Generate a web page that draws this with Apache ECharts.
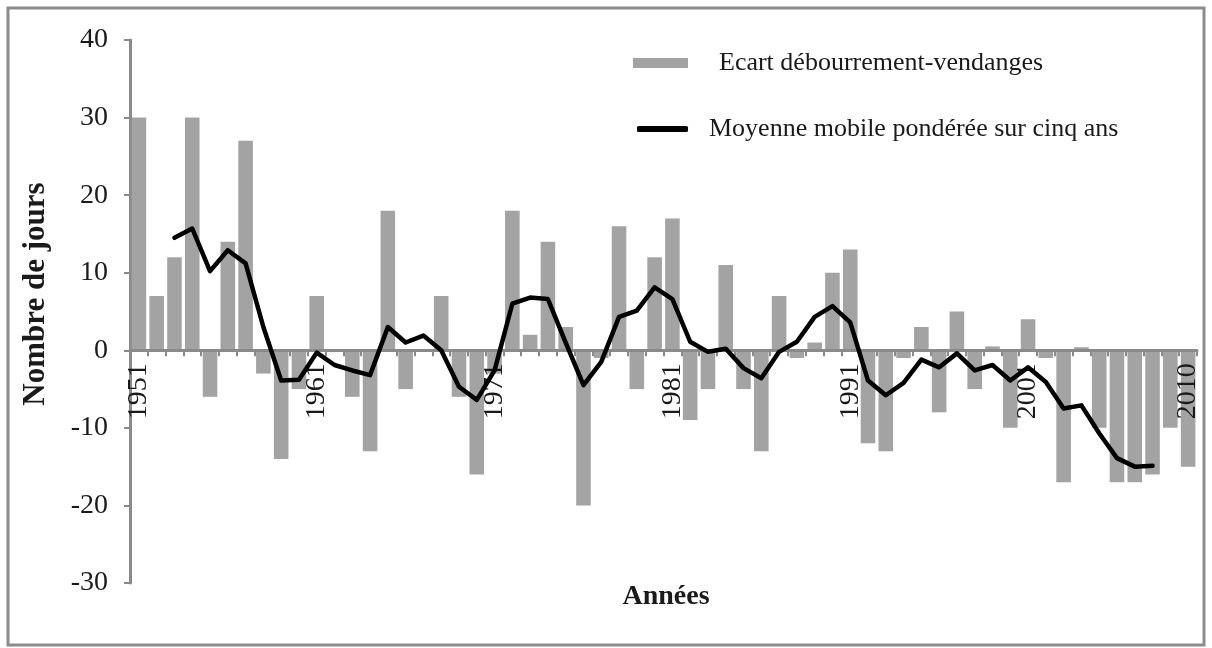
<!DOCTYPE html>
<html>
<head>
<meta charset="utf-8">
<title>Ecart débourrement-vendanges</title>
<script src="https://cdn.jsdelivr.net/npm/echarts@6/dist/echarts.min.js"></script>
<style>
    html, body {margin: 0; padding: 0; background: #fff;}
    #chart {width: 1212px; height: 648px;}
</style>
</head>
<body>
<div id="chart"></div>
<script>
    "use strict";

    /** années */
    var years = ['1951', '1952', '1953', '1954', '1955', '1956', '1957', '1958', '1959', '1960',
        '1961', '1962', '1963', '1964', '1965', '1966', '1967', '1968', '1969', '1970',
        '1971', '1972', '1973', '1974', '1975', '1976', '1977', '1978', '1979', '1980',
        '1981', '1982', '1983', '1984', '1985', '1986', '1987', '1988', '1989', '1990',
        '1991', '1992', '1993', '1994', '1995', '1996', '1997', '1998', '1999', '2000',
        '2001', '2002', '2003', '2004', '2005', '2006', '2007', '2008', '2009', '2010'];

    /** écart débourrement-vendanges (jours) */
    var ecart = [30, 7, 12, 30, -6, 14, 27, -3, -14, -5,
        7, 0, -6, -13, 18, -5, 0, 7, -6, -16,
        -3, 18, 2, 14, 3, -20, -1, 16, -5, 12,
        17, -9, -5, 11, -5, -13, 7, -1, 1, 10,
        13, -12, -13, -1, 3, -8, 5, -5, 0.5, -10,
        4, -1, -17, 0.4, -10, -17, -17, -16, -10, -15];

    /** moyenne mobile pondérée sur cinq ans */
    var moyenne = [null, null, 14.5, 15.7, 10.2, 12.9, 11.2, 3, -3.9, -3.8,
        -0.3, -1.9, -2.6, -3.2, 3.0, 1.0, 1.9, 0, -4.7, -6.4,
        -2.6, 6.0, 6.8, 6.6, 1.0, -4.5, -1.5, 4.3, 5.1, 8.1,
        6.6, 1.1, -0.2, 0.2, -2.3, -3.6, -0.2, 1.1, 4.3, 5.7,
        3.6, -3.9, -5.8, -4.2, -1.2, -2.2, -0.4, -2.6, -1.9, -3.9,
        -2.2, -4.1, -7.5, -7.1, -10.7, -13.9, -15.0, -14.9, null, null];

    /** graduations de l'axe vertical */
    var yMin = -30, yMax = 40, yStep = 10;

    var font = 'Liberation Serif';
    var axisGrey = '#8a8a8a';

    // zone du graphique
    var gridTop = 40, gridBottom = 65, chartHeight = 648;
    var plotHeight = chartHeight - gridTop - gridBottom;
    // décalage de l'axe des années pour le placer sur le zéro
    var zeroOffset = -plotHeight * (0 - yMin) / (yMax - yMin);

    var myChart = echarts.init(document.getElementById('chart'), null, {renderer: 'canvas'});

    var option = {
        backgroundColor: '#fff',
        animation: false,
        textStyle: {fontFamily: font, color: '#1a1a1a'},
        grid: {left: 130, right: 15, top: gridTop, bottom: gridBottom, containLabel: false},
        legend: [
            {
                data: [{name: 'Ecart débourrement-vendanges', icon: 'rect'}],
                left: 628, top: 45,
                itemWidth: 55, itemHeight: 10,
                textStyle: {fontFamily: font, fontSize: 26, color: '#1a1a1a', padding: [0, 0, 0, 26]},
                selectedMode: false
            },
            {
                data: [{name: 'Moyenne mobile pondérée sur cinq ans', icon: 'roundRect'}],
                left: 632, top: 111,
                itemWidth: 51, itemHeight: 6,
                textStyle: {fontFamily: font, fontSize: 26, color: '#1a1a1a', padding: [0, 0, 0, 16]},
                selectedMode: false
            }
        ],
        xAxis: {
            type: 'category',
            data: years,
            position: 'bottom',
            offset: zeroOffset,
            z: 3,
            axisLine: {onZero: false, lineStyle: {color: axisGrey, width: 3}},
            axisTick: {show: true, interval: 0, length: 6, lineStyle: {color: axisGrey, width: 2}},
            axisLabel: {
                rotate: 90,
                margin: 13,
                fontFamily: font,
                fontSize: 28,
                color: '#1a1a1a',
                padding: [14, 0, 0, 0],
                interval: function (index) {
                    return index % 10 === 0 || index === years.length - 1;
                }
            },
            splitLine: {show: false}
        },
        yAxis: {
            type: 'value',
            min: yMin, max: yMax, interval: yStep,
            axisLine: {show: true, lineStyle: {color: axisGrey, width: 3}},
            axisTick: {show: true, length: 6, lineStyle: {color: axisGrey, width: 2}},
            axisLabel: {margin: 22, fontFamily: font, fontSize: 28, color: '#1a1a1a'},
            splitLine: {show: false}
        },
        series: [
            {
                name: 'Ecart débourrement-vendanges',
                type: 'bar',
                data: ecart,
                z: 1,
                barCategoryGap: '18%',
                itemStyle: {color: '#a3a3a3'}
            },
            {
                name: 'Moyenne mobile pondérée sur cinq ans',
                type: 'line',
                data: moyenne,
                z: 5,
                symbol: 'none',
                connectNulls: false,
                lineStyle: {color: '#000', width: 4.5, join: 'round', cap: 'round'},
                itemStyle: {color: '#000'}
            }
        ],
        graphic: [
            {
                type: 'rect',
                shape: {x: 8, y: 8, width: 1196, height: 637},
                style: {fill: null, stroke: '#8c8c8c', lineWidth: 3},
                silent: true
            },
            {
                type: 'text',
                x: 36, y: 294,
                rotation: Math.PI / 2,
                style: {
                    text: 'Nombre de jours',
                    font: 'bold 31px "Liberation Serif"',
                    fill: '#1a1a1a',
                    textAlign: 'center',
                    textVerticalAlign: 'middle'
                }
            },
            {
                type: 'text',
                x: 666, y: 597,
                style: {
                    text: 'Années',
                    font: 'bold 28px "Liberation Serif"',
                    fill: '#1a1a1a',
                    textAlign: 'center',
                    textVerticalAlign: 'middle'
                }
            }
        ]
    };
    myChart.setOption(option);
</script>
</body>
</html>
